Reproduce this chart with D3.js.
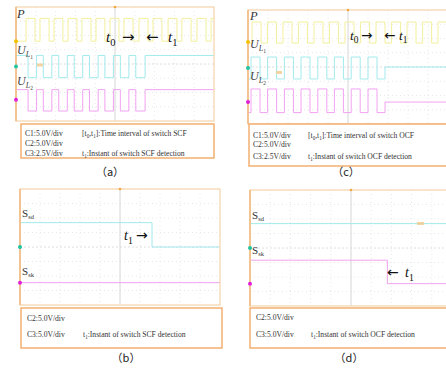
<!DOCTYPE html>
<html>
<head>
<meta charset="utf-8">
<script src="https://cdn.jsdelivr.net/npm/d3@7"></script>
<style>
  html, body { margin: 0; padding: 0; background: #fff; }
  svg { display: block; }
</style>
</head>
<body>
<svg id="fig" width="446" height="370"></svg>
<script>
// Scope traces, in screen divisions (x: -5..5, y: -4..4).
// Pulses are the intervals where a trace sits at its high level.
const panelA_P_pulses = [[-4.49,-4.04],[-3.79,-3.33],[-3.08,-2.63],[-2.37,-1.92],[-1.67,-1.21],[-0.96,-0.51],[-0.25,0.2],[0.45,0.91],[1.21,1.67],[1.92,2.37],[2.68,3.13],[3.38,3.84],[4.14,4.6],[4.85,5]];
const panelA_UL_pulses = [[-5,-4.39],[-3.96,-3.62],[-3.19,-2.84],[-2.41,-2.06],[-1.63,-1.29],[-0.85,-0.51],[-0.08,0.27],[0.7,1.05]];
const panelA_UL_stop = 1.52;
const panelA_levels = { P: [1.6, 3.2], UL1: [-0.96, 0.6, 0.6], UL2: [-3.3, -1.8, -1.8] };
const panelA_markers = [1.6, -0.18, -2.5];

const panelC_P_pulses = [[-4.8,-4.35],[-4.03,-3.58],[-3.25,-2.8],[-2.48,-2.03],[-1.7,-1.25],[-0.93,-0.48],[-0.15,0.3],[0.63,1.08],[1.4,1.85],[2.18,2.63],[2.95,3.4],[3.73,4.18],[4.5,4.95]];
const panelC_UL_pulses = [[-4.85,-4.4],[-4.02,-3.57],[-3.18,-2.73],[-2.35,-1.9],[-1.51,-1.06],[-0.68,-0.23],[0.16,0.61],[1.0,1.45]];
const panelC_UL_stop = 1.85;
const panelC_levels = { P: [1.68, 3.16], UL1: [-0.84, 0.7, 0], UL2: [-3.2, -1.54, -2.46] };
const panelC_markers = [1.75, -0.07, -2.46];

// Drive signals: [time, level] change points
const panelB_Ssd = [[-5, 1.68], [1.6, 0]];
const panelB_Ssk = [[-5, -2.46]];
const panelB_markers = [0, -2.46];
const panelD_Ssd = [[-5, 1.68]];
const panelD_Ssk = [[-5, -0.84], [1.8, -2.46]];
const panelD_markers = [0, -2.46];

const infoA = [["C1:5.0V/div", "[t|0|,t|1|]:Time interval of switch SCF"], ["C2:5.0V/div", ""], ["C3:2.5V/div", "t|1|:Instant of switch SCF detection"]];
const infoC = [["C1:5.0V/div", "[t|0|,t|1|]:Time interval of switch OCF"], ["C2:5.0V/div", ""], ["C3:2.5V/div", "t|1|:Instant of switch OCF detection"]];
const infoB = [["C2:5.0V/div", ""], ["C3:5.0V/div", "t|1|:Instant of switch SCF detection"]];
const infoD = [["C2:5.0V/div", ""], ["C3:5.0V/div", "t|1|:Instant of switch OCF detection"]];
const captions = ["（a）", "（b）", "（c）", "（d）"];

const COL = {
  P: "#f2f09c", UL1: "#a2eaec", UL2: "#f2a2f2",
  mP: "#f2c200", mUL1: "#22c4a0", mUL2: "#e020d8",
  frame: "#f6d2aa", box: "#f2aa68", grid: "#e2e2e2", axis: "#d6d6d6"
};
const SERIF = "'Liberation Serif', 'Times New Roman', serif";

const svg = d3.select("#fig");
let clipId = 0;

function scope(box) {
  const x = d3.scaleLinear().domain([-5, 5]).range([box.left, box.right]);
  const y = d3.scaleLinear().domain([4, -4]).range([box.top, box.bottom]);
  const g = svg.append("g");
  const id = "clip" + (clipId++);
  svg.append("clipPath").attr("id", id).append("rect")
    .attr("x", box.left).attr("y", box.top)
    .attr("width", box.right - box.left).attr("height", box.bottom - box.top);
  const inner = g.append("g").attr("clip-path", `url(#${id})`);
  // dotted graticule
  inner.selectAll(".gx").data(d3.range(-4, 5).filter(d => d !== 0)).join("line")
    .attr("x1", d => x(d)).attr("x2", d => x(d)).attr("y1", box.top).attr("y2", box.bottom)
    .attr("stroke", COL.grid).attr("stroke-width", 0.8).attr("stroke-dasharray", "1,3");
  inner.selectAll(".gy").data(d3.range(-3, 4).filter(d => d !== 0)).join("line")
    .attr("y1", d => y(d)).attr("y2", d => y(d)).attr("x1", box.left).attr("x2", box.right)
    .attr("stroke", COL.grid).attr("stroke-width", 0.8).attr("stroke-dasharray", "1,3");
  // centre cross
  inner.append("line").attr("x1", x(0)).attr("x2", x(0)).attr("y1", box.top).attr("y2", box.bottom)
    .attr("stroke", COL.axis).attr("stroke-width", 1);
  inner.append("line").attr("y1", y(0)).attr("y2", y(0)).attr("x1", box.left).attr("x2", box.right)
    .attr("stroke", COL.axis).attr("stroke-width", 0.8).attr("stroke-dasharray", "2,2");
  // frame
  g.append("rect").attr("x", box.left).attr("y", box.top)
    .attr("width", box.right - box.left).attr("height", box.bottom - box.top)
    .attr("fill", "none").attr("stroke", COL.frame).attr("stroke-width", 1.2);
  g.append("line").attr("x1", box.left).attr("x2", box.left).attr("y1", box.top).attr("y2", box.bottom)
    .attr("stroke", "#f2bb84").attr("stroke-width", 1.6);
  // trigger position mark
  g.append("circle").attr("cx", x(0)).attr("cy", box.top).attr("r", 1.3).attr("fill", "#f0a840");
  return { g, inner, x, y };
}

const line = (sc) => d3.line().x(d => sc.x(d[0])).y(d => sc.y(d[1])).curve(d3.curveStepAfter);

function pulseTrace(pulses, lo, hi, stop, stopLevel) {
  const pts = [];
  let level = (pulses.length && pulses[0][0] <= -5) ? hi : lo;
  pts.push([-5, level]);
  pulses.forEach(([s, e]) => {
    if (s > -5) pts.push([s, hi]);
    if (e < 5) pts.push([e, lo]);
    level = e < 5 ? lo : hi;
  });
  if (stop !== undefined) { pts.push([stop, stopLevel]); level = stopLevel; }
  pts.push([5, level]);
  return pts;
}
function stepTrace(changes) {
  const pts = changes.slice();
  pts.push([5, changes[changes.length - 1][1]]);
  return pts;
}

function drawPath(sc, pts, color) {
  sc.inner.append("path").datum(pts).attr("d", line(sc)).attr("fill", "none")
    .attr("stroke", color).attr("stroke-width", 1);
}
function markers(sc, levels, colors) {
  levels.forEach((v, i) => {
    sc.g.append("circle").attr("cx", sc.x(-5)).attr("cy", sc.y(v)).attr("r", 2).attr("fill", colors[i]);
  });
}

// text helpers
function richText(parent, x, y, spec, size, opts = {}) {
  // spec pieces separated by '|': even = normal, odd = subscript
  const t = parent.append("text").attr("x", x).attr("y", y)
    .attr("font-family", SERIF).attr("font-size", size).attr("fill", opts.fill || "#333");
  if (opts.italic) t.attr("font-style", "italic");
  spec.split("|").forEach((s, i) => {
    if (!s) return;
    const ts = t.append("tspan").text(s);
    if (i % 2 === 1) ts.attr("font-size", size * 0.68).attr("dy", size * 0.28).attr("font-style", "normal");
    else if (i > 0) ts.attr("dy", -size * 0.28);
  });
  return t;
}
function ULabel(parent, x, y, n) {
  const t = parent.append("text").attr("x", x).attr("y", y)
    .attr("font-family", SERIF).attr("font-size", 12).attr("font-style", "italic").attr("fill", "#444");
  t.append("tspan").text("U");
  t.append("tspan").text("L").attr("font-size", 8).attr("dy", 3);
  t.append("tspan").text(n).attr("font-size", 5.5).attr("dy", 2).attr("font-style", "normal");
}
function sLabel(parent, x, y, sub) {
  const t = parent.append("text").attr("x", x).attr("y", y)
    .attr("font-family", SERIF).attr("font-size", 11).attr("fill", "#333");
  t.append("tspan").text("S");
  t.append("tspan").text(sub).attr("font-size", 6.5).attr("dy", 2);
}
function tLabel(parent, x, y, n, size) {
  const t = parent.append("text").attr("x", x).attr("y", y)
    .attr("font-family", SERIF).attr("font-size", size).attr("font-style", "italic").attr("fill", "#111");
  t.append("tspan").text("t");
  t.append("tspan").text(n).attr("font-size", size * 0.7).attr("dy", size * 0.25).attr("font-style", "normal");
}
function arrow(parent, x, y, ch, size) {
  parent.append("text").attr("x", x).attr("y", y).attr("font-family", "'DejaVu Sans', sans-serif")
    .attr("font-size", size).attr("fill", "#111").text(ch);
}
function infoBox(b, rows, rowY, col1, col2) {
  svg.append("rect").attr("x", b.x).attr("y", b.y).attr("width", b.w).attr("height", b.h)
    .attr("fill", "#fff").attr("stroke", COL.box).attr("stroke-width", 1.4);
  rows.forEach((r, i) => {
    richText(svg, col1, rowY[i], r[0], 7.6);
    if (r[1]) richText(svg, col2, rowY[i], r[1], 7.6);
  });
}
function caption(x, y, s) {
  svg.append("text").attr("x", x).attr("y", y).attr("text-anchor", "middle")
    .attr("font-family", "'Noto Sans CJK SC', sans-serif").attr("font-size", 11).attr("fill", "#222").text(s);
}

// (a) short-circuit fault
const A = scope({ left: 16, right: 214, top: 7, bottom: 121 });
drawPath(A, pulseTrace(panelA_P_pulses, ...panelA_levels.P), COL.P);
drawPath(A, pulseTrace(panelA_UL_pulses, panelA_levels.UL1[0], panelA_levels.UL1[1], panelA_UL_stop, panelA_levels.UL1[2]), COL.UL1);
drawPath(A, pulseTrace(panelA_UL_pulses, panelA_levels.UL2[0], panelA_levels.UL2[1], panelA_UL_stop, panelA_levels.UL2[2]), COL.UL2);
markers(A, panelA_markers, [COL.mP, COL.mUL1, COL.mUL2]);
A.g.append("rect").attr("x", 37).attr("y", 63.5).attr("width", 6).attr("height", 3).attr("fill", "#f3c98c").attr("opacity", 0.8);
richText(A.g, 17, 18, "P", 12.5, { italic: true, fill: "#333" });
ULabel(A.g, 17, 54, "1");
ULabel(A.g, 17, 85, "2");
tLabel(svg, 106, 42, "0", 15);
arrow(svg, 122, 42, "→", 15);
arrow(svg, 146, 42, "←", 15);
tLabel(svg, 168, 42, "1", 15);
infoBox({ x: 21, y: 124, w: 193, h: 34 }, infoA, [136, 146, 156], 25, 82);

// (c) open-circuit fault
const C = scope({ left: 248, right: 448, top: 10, bottom: 124 });
drawPath(C, pulseTrace(panelC_P_pulses, ...panelC_levels.P), COL.P);
drawPath(C, pulseTrace(panelC_UL_pulses, panelC_levels.UL1[0], panelC_levels.UL1[1], panelC_UL_stop, panelC_levels.UL1[2]), COL.UL1);
drawPath(C, pulseTrace(panelC_UL_pulses, panelC_levels.UL2[0], panelC_levels.UL2[1], panelC_UL_stop, panelC_levels.UL2[2]), COL.UL2);
markers(C, panelC_markers, [COL.mP, COL.mUL1, COL.mUL2]);
C.g.append("rect").attr("x", 276).attr("y", 71).attr("width", 6).attr("height", 3).attr("fill", "#f3c98c").attr("opacity", 0.8);
richText(C.g, 250, 20, "P", 12.5, { italic: true, fill: "#333" });
ULabel(C.g, 250, 48, "1");
ULabel(C.g, 250, 80, "2");
tLabel(svg, 350, 40, "0", 13.5);
arrow(svg, 361, 40, "→", 13.5);
arrow(svg, 384, 40, "←", 13.5);
tLabel(svg, 399, 40, "1", 13.5);
infoBox({ x: 249, y: 124, w: 200, h: 42 }, infoC, [138, 147, 159], 253, 308);

// (b) drive signals, SCF
const B = scope({ left: 20, right: 220, top: 189, bottom: 305 });
drawPath(B, stepTrace(panelB_Ssd), COL.UL1);
drawPath(B, stepTrace(panelB_Ssk), COL.UL2);
markers(B, panelB_markers, [COL.mUL1, COL.mUL2]);
sLabel(B.g, 22, 217, "sd");
sLabel(B.g, 22, 275, "sk");
tLabel(svg, 124, 240, "1", 14);
arrow(svg, 136, 240, "→", 14);
infoBox({ x: 21, y: 308, w: 201, h: 40 }, infoB, [321, 337], 27, 83);

// (d) drive signals, OCF
const D = scope({ left: 250, right: 452, top: 190, bottom: 306 });
drawPath(D, stepTrace(panelD_Ssd), COL.UL1);
drawPath(D, stepTrace(panelD_Ssk), COL.UL2);
markers(D, panelD_markers, [COL.mUL1, COL.mUL2]);
D.g.append("rect").attr("x", 417).attr("y", 222).attr("width", 7).attr("height", 3).attr("fill", "#f3c98c").attr("opacity", 0.8);
sLabel(D.g, 252, 219, "sd");
sLabel(D.g, 252, 254, "sk");
arrow(svg, 387, 277, "←", 14);
tLabel(svg, 405, 277, "1", 14);
infoBox({ x: 250, y: 308, w: 199, h: 40 }, infoD, [320, 337], 256, 311);

caption(110, 176, captions[0]);
caption(126, 362, captions[1]);
caption(346, 176, captions[2]);
caption(349, 362, captions[3]);
</script>
</body>
</html>
